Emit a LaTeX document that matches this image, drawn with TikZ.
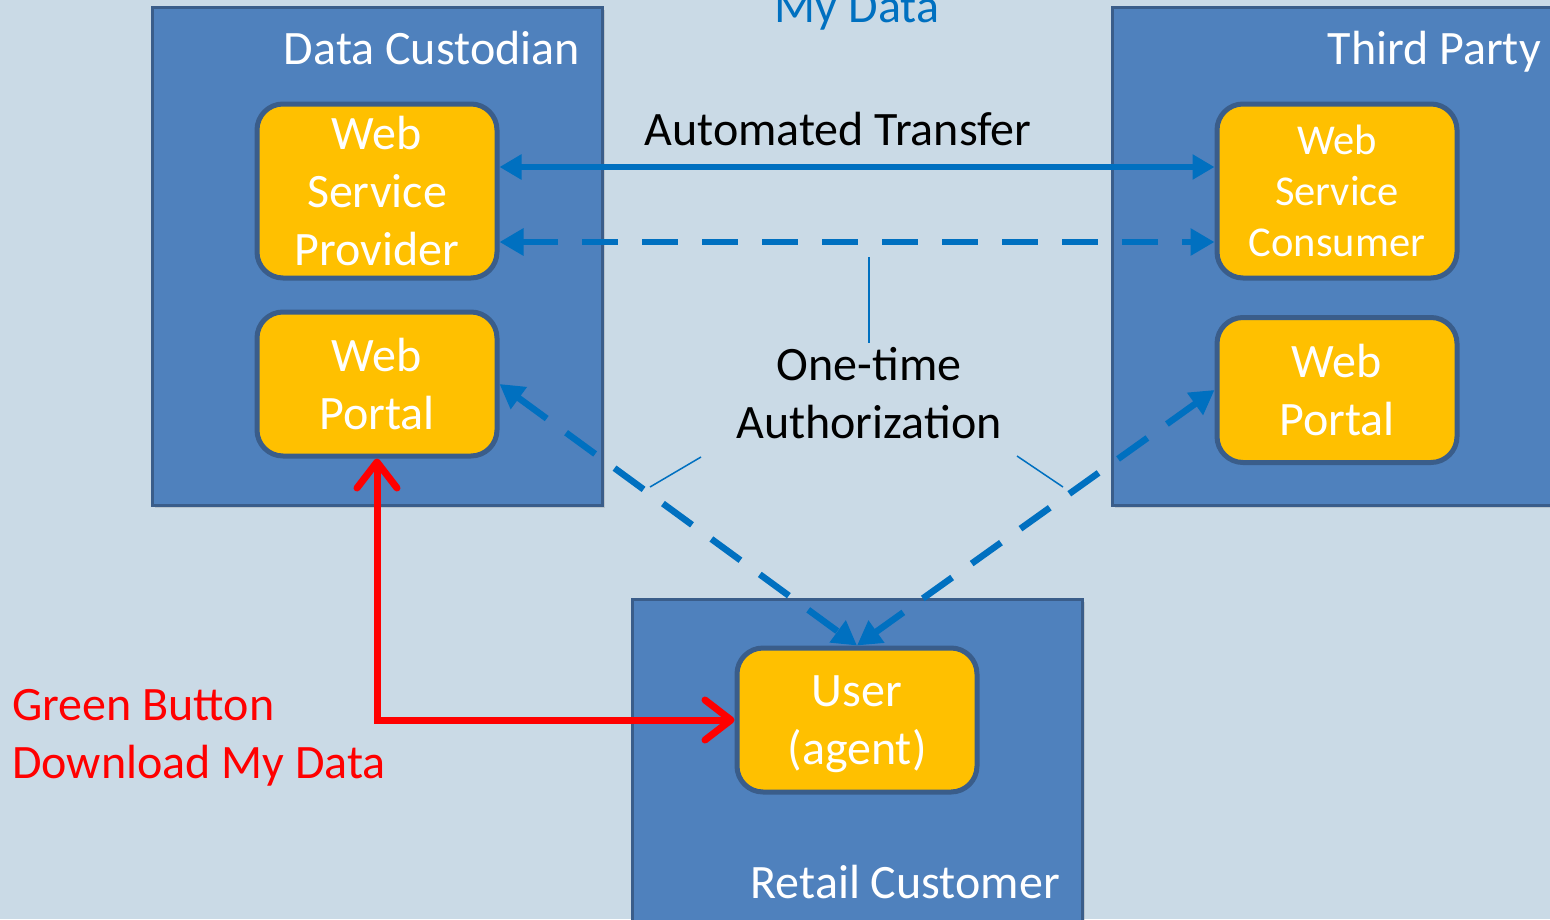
\documentclass[tikz,border=0pt]{standalone}
\usepackage{fontspec}
\setmainfont{Carlito}
\usetikzlibrary{arrows.meta,shadows}
\definecolor{bgc}{HTML}{CADAE6}
\definecolor{boxblue}{HTML}{4F81BD}
\definecolor{boxline}{HTML}{3A5D8A}
\definecolor{gold}{HTML}{FFC000}
\definecolor{arrblue}{HTML}{0070C0}
\definecolor{gbred}{HTML}{FF0000}
\tikzset{
  bigbox/.style={draw=boxline, line width=3pt, fill=boxblue, inner sep=0pt,
    drop shadow={opacity=0.25, shadow xshift=3pt, shadow yshift=-3pt}},
  ybox/.style={draw=boxline, line width=5pt, fill=gold, rounded corners=26pt, inner sep=0pt,
    minimum width=240pt, text=white, align=center,
    font=\fontsize{48}{58}\selectfont},
  lbl/.style={inner sep=0pt, font=\fontsize{48}{58}\selectfont},
  blarrow/.style={draw=arrblue, line width=6pt, {Triangle[length=22pt,width=24pt]}-{Triangle[length=22pt,width=24pt]}},
  dasharrow2/.style={draw=arrblue, line width=6.5pt, dash pattern=on 36pt off 24pt, {Triangle[length=24pt,width=26pt]}-{Triangle[length=24pt,width=26pt]}},
  callout/.style={draw=arrblue, line width=1.5pt},
  redarrow/.style={draw=gbred, line width=7pt, {Straight Barb[length=26pt,width=40pt,round]}-{Straight Barb[length=26pt,width=40pt,round]}},
}
\begin{document}
\begin{tikzpicture}[x=1pt,y=-1pt]
\useasboundingbox (0,0) rectangle (1550,919);
\clip (0,0) rectangle (1550,919);
\fill[bgc] (0,0) rectangle (1550,919);

% big boxes
\node[bigbox, minimum width=450pt, minimum height=498pt] (dc) at (377,256) {};
\node[bigbox, minimum width=450pt, minimum height=498pt] (tp) at (1337,256) {};
\node[bigbox, minimum width=450pt, minimum height=340pt] (rc) at (857,769) {};

\node[lbl, text=white, anchor=base east] (dcl) at (580,64) {Data Custodian};
\node[lbl, text=white, anchor=base east] (tpl) at (1541,64) {Third Party};
\node[lbl, text=white, anchor=base east] (rcl) at (1060,898) {Retail Customer};

% yellow boxes
\node[ybox, minimum height=174pt] (wsp) at (377,191) {Web\\Service\\Provider};
\node[ybox, minimum height=144pt] (wpl) at (377,384) {Web\\Portal};
\node[ybox, minimum height=174pt, font=\fontsize{42.5}{51}\selectfont] (wsc) at (1337,191) {Web\\Service\\Consumer};
\node[ybox, minimum height=145pt] (wpr) at (1337,390) {Web\\Portal};
\node[ybox, minimum height=144pt, text depth=0pt] (user) at (857,720) {User\\(agent)};

% texts
\node[lbl, text=arrblue, anchor=base] (myd) at (857,22) {My Data};
\node[lbl, text=black, anchor=base] (atl) at (838,145) {Automated Transfer};
\node[lbl, text=black, align=center] (ota) at (869,393) {One-time\\Authorization};
\node[lbl, text=gbred, align=left, anchor=north west] (gb) at (12,689) {Green Button\\Download My Data};

% connectors
\draw[blarrow] ([yshift=24pt]wsp.east) -- ([yshift=24pt]wsc.west);
\draw[dasharrow2] ([yshift=-51pt]wsp.east) -- ([yshift=-51pt]wsc.west);
\draw[dasharrow2] (wpl.east) -- (user.north);
\draw[dasharrow2] (wpr.west) -- (user.north);
\draw[redarrow] (wpl.south) |- (user.west);

\coordinate (c1a) at (869,257);
\coordinate (c1b) at (869,343);
\coordinate (c2a) at (650,487);
\coordinate (c2b) at (701,457);
\coordinate (c3a) at (1017,456);
\coordinate (c3b) at (1063,487);
\draw[callout] (c1a) -- (c1b);
\draw[callout] (c2a) -- (c2b);
\draw[callout] (c3a) -- (c3b);
\end{tikzpicture}
\end{document}
